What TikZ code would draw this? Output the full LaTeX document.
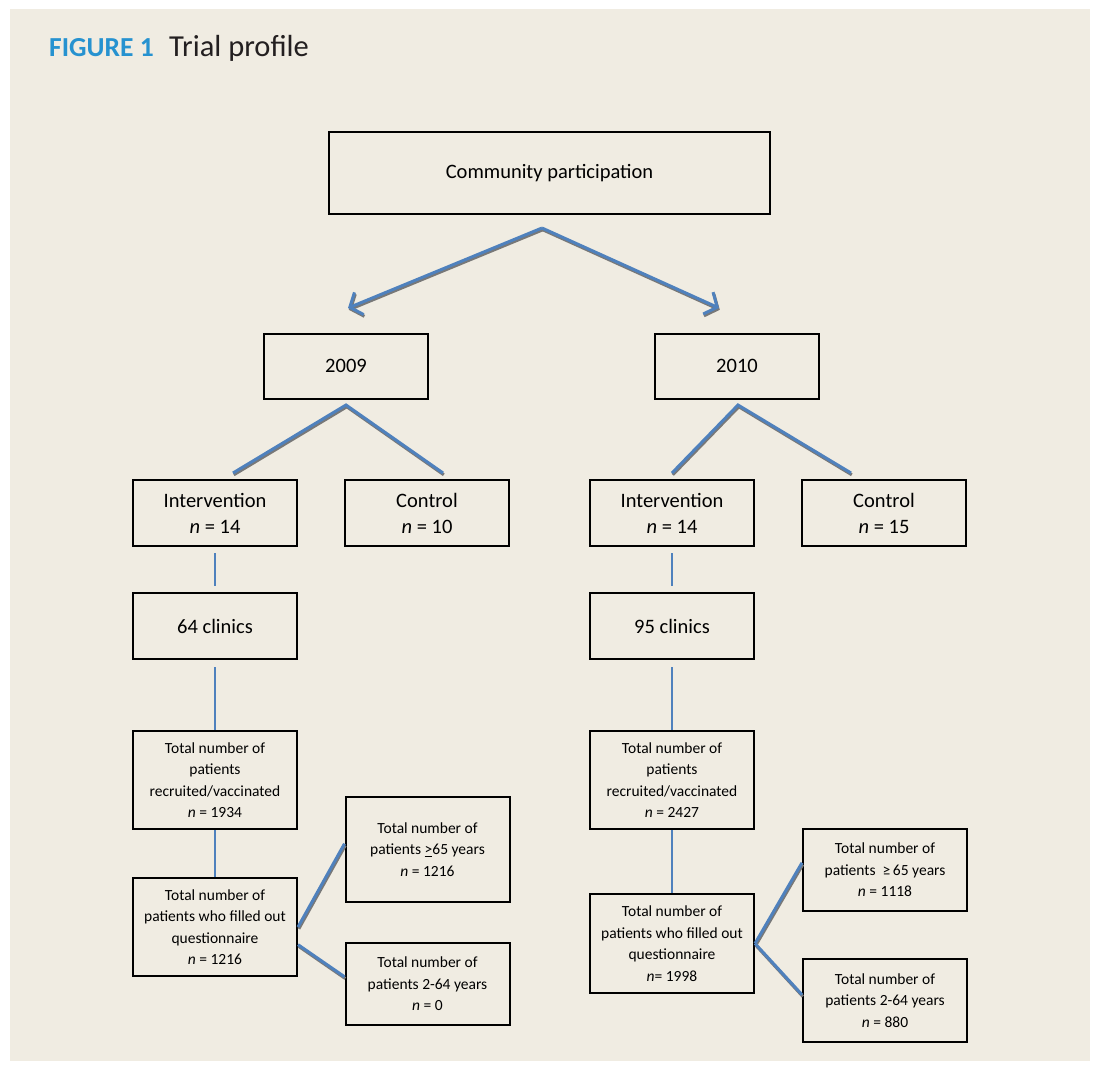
\documentclass[tikz,border=0pt]{standalone}
\usepackage{fontspec}
\setmainfont{Carlito}
\usetikzlibrary{arrows.meta}

\definecolor{paper}{RGB}{240,236,226}
\definecolor{linkblue}{RGB}{79,129,189}
\definecolor{shadowgray}{RGB}{120,120,120}
\definecolor{figblue}{RGB}{38,146,208}
\definecolor{titlegray}{RGB}{35,31,32}

\newcommand{\boxfont}{\fontsize{20.5bp}{26bp}\selectfont}
\newcommand{\notefont}{\fontsize{15.5bp}{21.5bp}\selectfont}

\tikzset{
    box/.style={draw=black, line width=2bp, minimum width=164bp, align=center, inner sep=0pt, font=\boxfont},
    notebox/.style={box, font=\notefont},
    link/.style={draw=linkblue, line width=3bp,
        preaction={draw=shadowgray, line width=3bp, transform canvas={xshift=0.8bp, yshift=-1.8bp}}},
    vlink/.style={draw=linkblue, line width=2.5bp}
}

\begin{document}
\begin{tikzpicture}[x=1bp, y=-1bp]
    % Background and page size
    \useasboundingbox (0,0) rectangle (1094,1081);
    \fill[white] (0,0) rectangle (1094,1081);
    \fill[paper] (10,9) rectangle (1090,1061);

    % Heading
    \node[anchor=base west, inner sep=0pt, text=figblue, font=\fontsize{27.5bp}{30bp}\selectfont\bfseries] (figlabel) at (49,56) {FIGURE 1};
    \node[anchor=base west, inner sep=0pt, text=titlegray, font=\fontsize{30.5bp}{34bp}\selectfont] (figtitle) at (169,56) {Trial profile};

    % Top box and the two years
    \node[box, minimum width=441bp, minimum height=82bp] (comm) at (549.5,173) {Community participation};
    \node[box, minimum height=65bp] (y09) at (346,366) {2009};
    \node[box, minimum height=65bp] (y10) at (737,366) {2010};

    \coordinate (split) at (542,228);
    \coordinate (to09) at (348,308);
    \coordinate (to10) at (719,308);
    \draw[link, -{Straight Barb[length=10bp, width=24bp]}] (split) -- (to09);
    \draw[link, -{Straight Barb[length=10bp, width=24bp]}] (split) -- (to10);

    % Study arms
    \node[box, minimum height=66bp] (int09) at (215,513) {Intervention\\\textit{n} = 14};
    \node[box, minimum height=66bp] (ctl09) at (427,513) {Control\\\textit{n} = 10};
    \node[box, minimum height=66bp] (int10) at (672,513) {Intervention\\\textit{n} = 14};
    \node[box, minimum height=66bp] (ctl10) at (884,513) {Control\\\textit{n} = 15};

    \coordinate (fork09) at (346,405);
    \coordinate (arm09a) at (233,473);
    \coordinate (arm09b) at (443,473);
    \coordinate (fork10) at (738,405);
    \coordinate (arm10a) at (672,473);
    \coordinate (arm10b) at (851,473);
    \draw[link] (arm09a) -- (fork09) -- (arm09b);
    \draw[link] (arm10a) -- (fork10) -- (arm10b);

    % Clinics
    \node[box, minimum height=66bp] (cl09) at (215,626) {64 clinics};
    \node[box, minimum height=66bp] (cl10) at (672,626) {95 clinics};
    \draw[vlink, shorten <=6bp, shorten >=6bp] (int09) -- (cl09);
    \draw[vlink, shorten <=6bp, shorten >=6bp] (int10) -- (cl10);

    % Patients, 2009
    \node[notebox, minimum height=98bp] (rec09) at (215,780) {Total number of\\patients\\recruited/vaccinated\\\textit{n} = 1934};
    \node[notebox, minimum height=98bp] (fill09) at (215,927) {Total number of\\patients who filled out\\questionnaire\\\textit{n} = 1216};
    \node[notebox, minimum height=105bp] (old09) at (427.5,849.5) {Total number of\\patients \underline{>}65 years\\\textit{n} = 1216};
    \node[notebox, minimum height=82bp] (young09) at (427.5,984) {Total number of\\patients 2-64 years\\\textit{n} = 0};
    \draw[vlink, shorten <=7bp] (cl09) -- (rec09);
    \draw[vlink] (rec09) -- (fill09);
    \draw[link] (fill09.east) -- (old09.176);
    \draw[link] (fill09.-12) -- (young09.175);

    % Patients, 2010
    \node[notebox, minimum height=98bp] (rec10) at (672,780) {Total number of\\patients\\recruited/vaccinated\\\textit{n} = 2427};
    \node[notebox, minimum height=99bp] (fill10) at (672,943.5) {Total number of\\patients who filled out\\questionnaire\\\textit{n}= 1998};
    \node[notebox, minimum height=82bp] (old10) at (885,870) {Total number of\\patients \ ≥\,65 years\\\textit{n} = 1118};
    \node[notebox, minimum height=83bp] (young10) at (885,1000.5) {Total number of\\patients 2-64 years\\\textit{n} = 880};
    \draw[vlink, shorten <=7bp] (cl10) -- (rec10);
    \draw[vlink] (rec10) -- (fill10);
    \draw[link] (fill10.east) -- (old10.175);
    \draw[link] (fill10.east) -- (young10.176);
\end{tikzpicture}
\end{document}
